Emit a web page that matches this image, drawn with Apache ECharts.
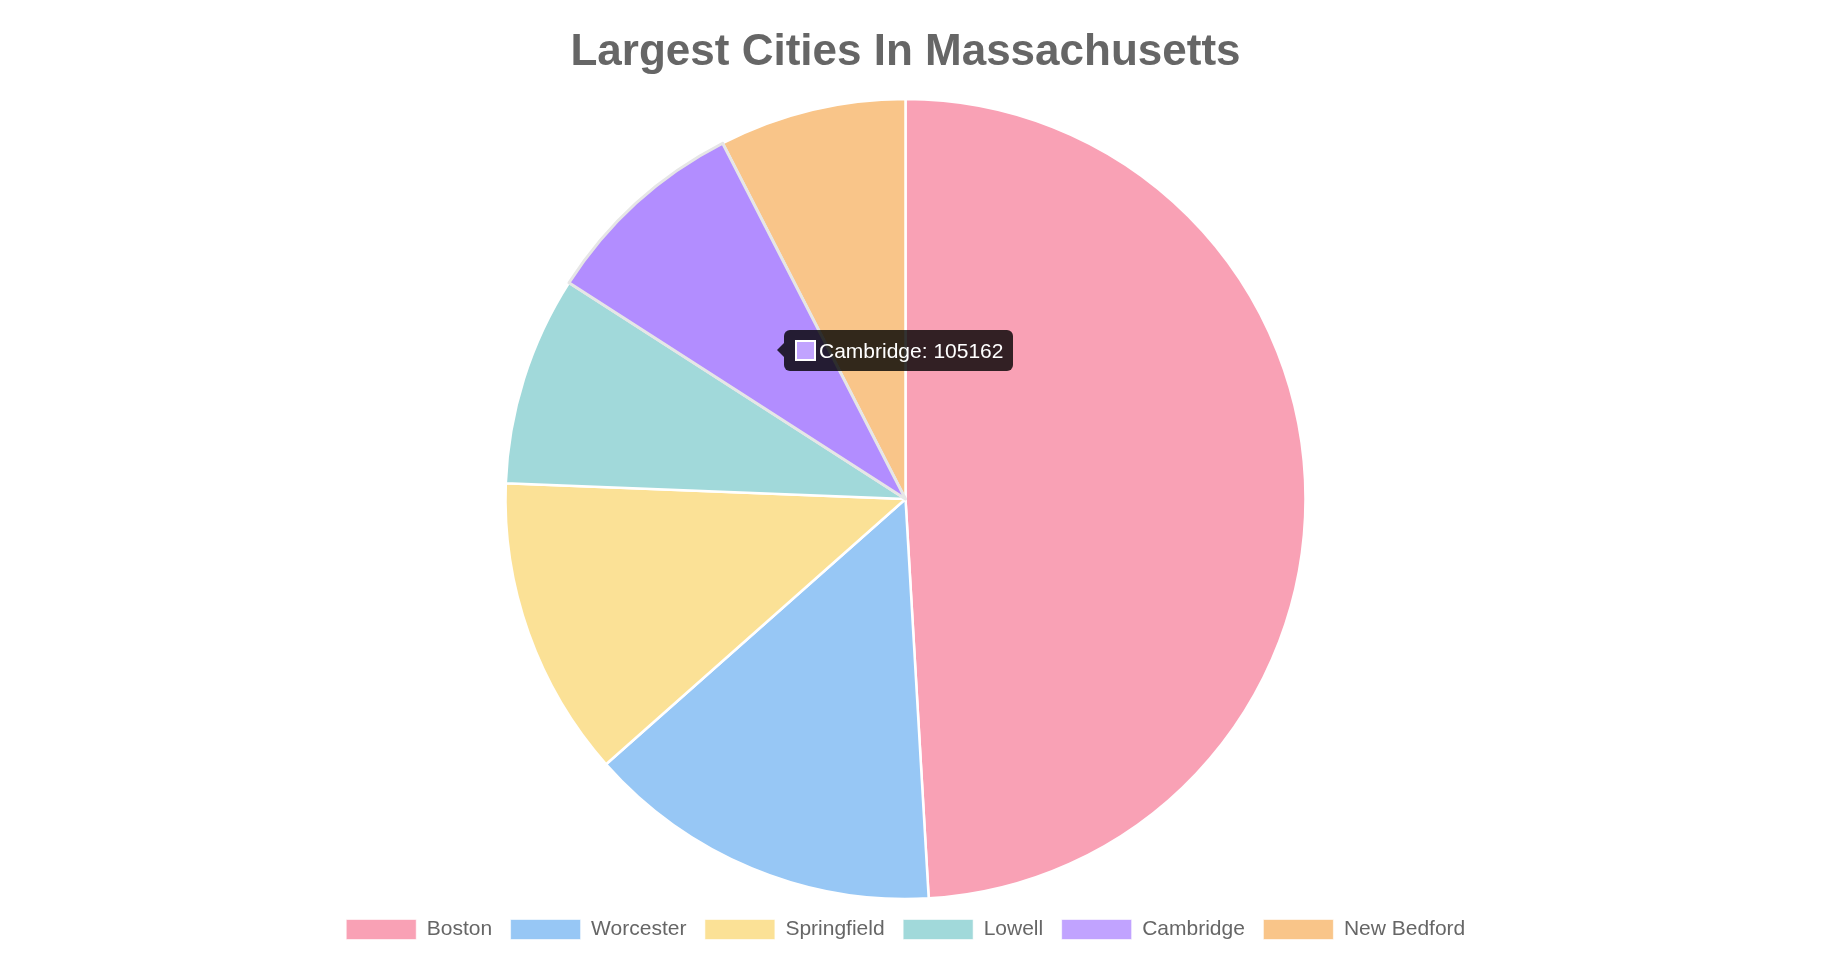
<!DOCTYPE html>
<html>
<head>
<meta charset="utf-8">
<script src="https://cdn.jsdelivr.net/npm/echarts@6/dist/echarts.min.js"></script>
<style>
html,body{margin:0;padding:0;background:#fff;}
#wrap{position:relative;width:1832px;height:956px;}
#chart{position:absolute;left:0;top:0;width:1811px;height:956px;}
</style>
</head>
<body>
<div id="wrap"><div id="chart"></div></div>
<script>
const titleText = 'Largest Cities In Massachusetts';
const cities = ['Boston', 'Worcester', 'Springfield', 'Lowell', 'Cambridge', 'New Bedford'];
const populations = [617594, 181045, 153060, 106519, 105162, 95072];
const colors = ['#f9a1b5', '#97c7f5', '#fbe196', '#a1d9da', '#c1a3ff', '#f9c589'];
const hoverColors = ['#f78aa2', '#7cb8f2', '#f9d877', '#86cfd0', '#b28dff', '#f7b56c'];
const hoveredIndex = 4;

const chart = echarts.init(document.getElementById('chart'), null, {renderer: 'canvas'});
const font = '"Liberation Sans", Arial, Helvetica, sans-serif';

const option = {
  animation: false,
  title: {
    text: titleText,
    left: 'center',
    top: 25.5,
    textStyle: {fontFamily: font, fontSize: 44, fontWeight: 'bold', color: '#666666'}
  },
  legend: {
    data: cities,
    left: 'center',
    top: 914,
    icon: 'rect',
    itemWidth: 70,
    itemHeight: 20,
    itemGap: 18,
    selectedMode: false,
    itemStyle: {borderColor: 'rgba(255,255,255,0.6)', borderWidth: 1},
    textStyle: {fontFamily: font, fontSize: 21, color: '#666666', padding: [0, 0, 0, 5.5]}
  },
  tooltip: {
    trigger: 'item',
    alwaysShowContent: true,
    showContent: true,
    transitionDuration: 0,
    triggerOn: 'none',
    backgroundColor: 'rgba(0,0,0,0)',
    borderWidth: 0,
    padding: 0,
    extraCssText: 'box-shadow:none;',
    position: function () { return [784, 329.5]; },
    formatter: function (p) {
      return '<div style="position:relative;background:rgba(0,0,0,0.8);border-radius:6px;height:40.5px;' +
        'padding:0 10px 0 11px;display:flex;align-items:center;font-family:' + font.replace(/"/g, "'") + ';font-size:21px;color:#fff;">' +
        '<div style="position:absolute;left:-7px;top:13px;width:0;height:0;border-top:7px solid transparent;border-bottom:7px solid transparent;border-right:7px solid rgba(0,0,0,0.8);"></div>' +
        '<span style="display:inline-block;box-sizing:border-box;width:21px;height:21px;background:' + colors[p.dataIndex] +
        ';border:2px solid #fff;margin-right:3px;"></span>' +
        p.name + ': ' + p.value + '</div>';
    }
  },
  series: [{
    type: 'pie',
    center: [905.5, 499],
    radius: [0, 400],
    startAngle: 90,
    clockwise: true,
    label: {show: false},
    labelLine: {show: false},
    itemStyle: {borderColor: '#ffffff', borderWidth: 2.5},
    emphasis: {scale: false, focus: 'none'},
    data: cities.map((c, i) => ({
      name: c,
      value: populations[i],
      itemStyle: {color: colors[i]},
      emphasis: {itemStyle: {color: hoverColors[i], borderColor: '#e6e6e6', borderWidth: 3}}
    }))
  }]
};
chart.setOption(option);
chart.dispatchAction({type: 'highlight', seriesIndex: 0, dataIndex: hoveredIndex});
chart.dispatchAction({type: 'showTip', seriesIndex: 0, dataIndex: hoveredIndex});
</script>
</body>
</html>
